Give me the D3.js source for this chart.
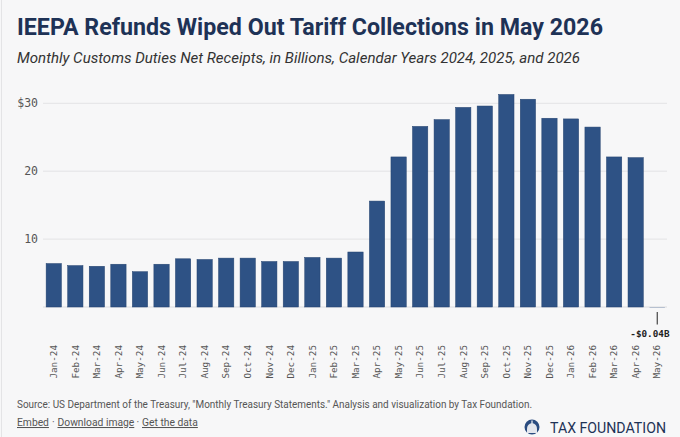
<html lang="en">
<head>
<meta charset="UTF-8">
<title>IEEPA Refunds Wiped Out Tariff Collections in May 2026</title>
<script src="https://d3js.org/d3.v7.min.js"></script>
<style>
  body {
    margin: 0;
    background-color: #f7f7f8;
  }
  .title { font-family: Roboto, "Noto Sans", sans-serif; font-weight: bold; fill: #1e3256; }
  .subtitle { font-family: Roboto, "Noto Sans", sans-serif; font-style: italic; fill: #333; }
  .axis text { font-family: "DejaVu Sans Mono", "Liberation Mono", monospace; fill: #555; }
  .note { font-family: Roboto, "Noto Sans", sans-serif; fill: #555; }
</style>
</head>
<body>
<div id="chart"></div>

<script>
// Monthly customs duties net receipts, $ billions
const months = [
  "Jan-24", "Feb-24", "Mar-24", "Apr-24", "May-24", "Jun-24", "Jul-24", "Aug-24",
  "Sep-24", "Oct-24", "Nov-24", "Dec-24", "Jan-25", "Feb-25", "Mar-25", "Apr-25",
  "May-25", "Jun-25", "Jul-25", "Aug-25", "Sep-25", "Oct-25", "Nov-25", "Dec-25",
  "Jan-26", "Feb-26", "Mar-26", "Apr-26", "May-26"
];
const receipts = [
  6.4, 6.1, 6.0, 6.3, 5.2, 6.3, 7.1, 7.0,
  7.2, 7.2, 6.7, 6.7, 7.3, 7.2, 8.1, 15.6,
  22.1, 26.6, 27.6, 29.4, 29.6, 31.3, 30.6, 27.8,
  27.7, 26.5, 22.1, 22.0, -0.04
];
const yTicks = [10, 20, 30];
const calloutMonth = "May-26";
const calloutLabel = "-$0.04B";

const W = 680, H = 437;

const svg = d3.select("#chart")
  .append("svg")
  .attr("width", W)
  .attr("height", H);

// faint left border of the embed
svg.append("line")
  .attr("x1", 1.5).attr("x2", 1.5)
  .attr("y1", 0).attr("y2", H)
  .attr("stroke", "#e4e4e6");

// Headings
svg.append("text")
  .attr("class", "title")
  .attr("x", 17).attr("y", 35)
  .attr("font-size", 23)
  .attr("textLength", 586)
  .attr("lengthAdjust", "spacingAndGlyphs")
  .text("IEEPA Refunds Wiped Out Tariff Collections in May 2026");

svg.append("text")
  .attr("class", "subtitle")
  .attr("x", 17).attr("y", 63)
  .attr("font-size", 15)
  .attr("textLength", 563)
  .attr("lengthAdjust", "spacingAndGlyphs")
  .text("Monthly Customs Duties Net Receipts, in Billions, Calendar Years 2024, 2025, and 2026");

// Scales
const x = d3.scaleBand()
  .domain(months)
  .range([43, 668])
  .paddingInner(0.29)
  .paddingOuter(0.145);

const y = d3.scaleLinear()
  .domain([0, 30])
  .range([307, 103.3]);

// Grid lines
svg.append("g")
  .selectAll("line")
  .data([0].concat(yTicks))
  .join("line")
  .attr("x1", 43).attr("x2", 667)
  .attr("y1", d => y(d)).attr("y2", d => y(d))
  .attr("stroke", d => d === 0 ? "#dcdcdf" : "#e3e3e5")
  .attr("stroke-width", 1);

// Y axis labels
const yAxis = d3.axisLeft(y)
  .tickValues(yTicks)
  .tickSize(0)
  .tickPadding(0)
  .tickFormat(d => d === 30 ? "$" + d : d);

svg.append("g")
  .attr("class", "axis")
  .attr("transform", "translate(38,0)")
  .call(yAxis)
  .call(g => g.select(".domain").remove())
  .selectAll("text")
  .attr("font-size", 11.5);

// Bars
svg.append("g")
  .selectAll("rect")
  .data(months.map((m, i) => ({ month: m, value: receipts[i] })))
  .join("rect")
  .attr("x", d => x(d.month))
  .attr("y", d => y(Math.max(0, d.value)))
  .attr("width", x.bandwidth())
  .attr("height", d => Math.abs(y(d.value) - y(0)))
  .attr("fill", "#2e5285")
  .attr("stroke", d => Math.abs(d.value) < 1 ? "none" : "#24436f")
  .attr("stroke-width", 0.5);

// X axis labels (rotated)
const xAxis = d3.axisBottom(x).tickSize(0).tickPadding(0);

svg.append("g")
  .attr("class", "axis")
  .attr("transform", "translate(0,345)")
  .call(xAxis)
  .call(g => g.select(".domain").remove())
  .selectAll("text")
  .attr("font-size", 9.3)
  .attr("transform", "rotate(-90)")
  .attr("x", 0)
  .attr("y", 0)
  .attr("dx", 0)
  .attr("dy", "0.35em")
  .style("text-anchor", "end");

// Callout for the negative May-26 value
const cx = x(calloutMonth) + x.bandwidth() / 2;
svg.append("line")
  .attr("x1", cx).attr("x2", cx)
  .attr("y1", 312).attr("y2", 324.5)
  .attr("stroke", "#222")
  .attr("stroke-width", 1);

svg.append("text")
  .attr("x", 669.5).attr("y", 336.5)
  .attr("text-anchor", "end")
  .attr("font-family", "'DejaVu Sans Mono', monospace")
  .attr("font-weight", "bold")
  .attr("font-size", 9.3)
  .attr("fill", "#222")
  .text(calloutLabel);

// Source note
svg.append("text")
  .attr("class", "note")
  .attr("x", 17).attr("y", 408)
  .attr("font-size", 11.5)
  .attr("textLength", 515)
  .attr("lengthAdjust", "spacingAndGlyphs")
  .text("Source: US Department of the Treasury, \"Monthly Treasury Statements.\" Analysis and visualization by Tax Foundation.");

// Links row, one text with positioned pieces
const links = [
  { t: "Embed", x: 17, u: true },
  { t: "\u00b7", x: 52, u: false },
  { t: "Download image", x: 57.5, u: true },
  { t: "\u00b7", x: 136.5, u: false },
  { t: "Get the data", x: 142, u: true }
];
svg.append("text")
  .attr("class", "note")
  .attr("y", 426)
  .attr("font-size", 10.3)
  .selectAll("tspan")
  .data(links)
  .join("tspan")
  .attr("x", d => d.x)
  .style("text-decoration", d => d.u ? "underline" : "none")
  .text(d => d.t);

// Tax Foundation logo
const logo = svg.append("g").attr("transform", "translate(532,427)");
logo.append("circle").attr("r", 7.5).attr("fill", "#2a4c80");
logo.append("path")
  .attr("d", "M-5,6 L-5,2 Q-5,-3 0,-4 Q5,-3 5,2 L5,6 Z")
  .attr("fill", "#f7f7f8")
  .attr("opacity", 0.9);
logo.append("rect").attr("x", -0.6).attr("y", -6.5).attr("width", 1.2).attr("height", 3).attr("fill", "#f7f7f8");

svg.append("text")
  .attr("x", 550).attr("y", 433)
  .attr("font-family", "Roboto, 'Noto Sans', sans-serif")
  .attr("font-size", 15.5)
  .attr("fill", "#1e3256")
  .attr("textLength", 116)
  .attr("lengthAdjust", "spacingAndGlyphs")
  .text("TAX FOUNDATION");
</script>
</body>
</html>
